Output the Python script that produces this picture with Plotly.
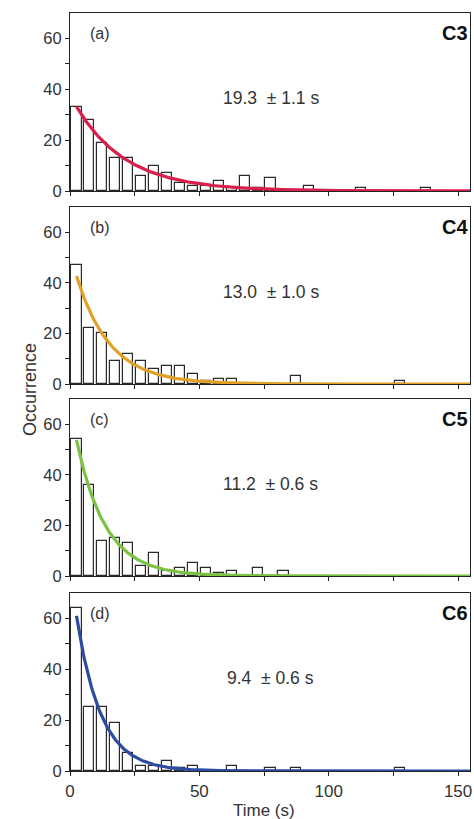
import numpy as np
import plotly.graph_objects as go
from plotly.subplots import make_subplots

# ---- data ----
bin_centers = [2.5 + 5 * i for i in range(31)]
counts_a = [33, 28, 19, 13, 13, 6, 10, 7, 3, 2, 2, 4, 1, 6, 1, 5, 0, 0, 2, 0, 0, 0, 1, 0, 0, 0, 0, 1, 0, 0, 0]
counts_b = [47, 22, 20, 9, 12, 9, 6, 7, 7, 4, 1, 2, 2, 0, 0, 0, 0, 3, 0, 0, 0, 0, 0, 0, 0, 1, 0, 0, 0, 0, 0]
counts_c = [54, 36, 14, 15, 13, 4, 9, 2, 3, 5, 3, 1, 2, 0, 3, 0, 2, 0, 0, 0, 0, 0, 0, 0, 0, 0, 0, 0, 0, 0, 0]
counts_d = [64, 25, 25, 19, 7, 2, 2, 4, 1, 2, 0, 0, 2, 0, 0, 1, 0, 1, 0, 0, 0, 0, 0, 0, 0, 1, 0, 0, 0, 0, 0]

panel_labels = ["(a)", "(b)", "(c)", "(d)"]
compound_labels = ["C3", "C4", "C5", "C6"]
lifetimes = ["19.3  \u00b1 1.1 s", "13.0  \u00b1 1.0 s", "11.2  \u00b1 0.6 s", "9.4  \u00b1 0.6 s"]
fit_tau = [19.3, 13.0, 11.2, 9.4]
fit_amp = [37.8, 51.7, 67.3, 79.6]
fit_colors = ["#d8204c", "#e2a126", "#7cc243", "#2c4ca2"]

all_counts = [counts_a, counts_b, counts_c, counts_d]

y_ticks = [0, 20, 40, 60]
x_tickvals = [0, 25, 50, 75, 100, 125, 150]
x_ticktext = ["0", "", "50", "", "100", "", "150"]

# ---- figure ----
fig = make_subplots(rows=4, cols=1, shared_xaxes=False, vertical_spacing=0.0)

W, H = 474, 819
ml, mr, mt, mb = 70, 2, 13, 48
plot_h = H - mt - mb
# panel pixel extents (top, bottom)
extents = [(13, 191), (207, 384), (399, 576), (593, 771)]
domains = [[(H - mb - b) / plot_h, (H - mb - t) / plot_h] for t, b in extents]

font_fam = "Liberation Sans, Arial, sans-serif"
t_fit = np.linspace(2.5, 155, 400)

for i in range(4):
    r = i + 1
    xs = [x for x, c in zip(bin_centers, all_counts[i]) if c > 0]
    ys = [c for c in all_counts[i] if c > 0]
    fig.add_trace(go.Bar(x=xs, y=ys, width=3.9,
                         marker=dict(color="white", line=dict(color="#2a2a2a", width=1.2)),
                         showlegend=False), row=r, col=1)
    fig.add_trace(go.Scatter(x=t_fit, y=fit_amp[i] * np.exp(-t_fit / fit_tau[i]),
                             mode="lines", line=dict(color=fit_colors[i], width=3.2),
                             showlegend=False), row=r, col=1)
    xa = "xaxis" if r == 1 else f"xaxis{r}"
    ya = "yaxis" if r == 1 else f"yaxis{r}"
    fig.layout[xa].update(range=[0, 154.6], tickvals=x_tickvals, ticktext=x_ticktext,
                          showticklabels=(r == 4), ticks="outside", ticklen=4, tickwidth=1,
                          tickcolor="#222", showline=True, linecolor="#222", linewidth=1.2,
                          mirror=True, showgrid=False, zeroline=False,
                          ticklabeloverflow="allow",
                          tickfont=dict(size=17, color="#333", family=font_fam))
    fig.layout[ya].update(range=[0, 70], domain=domains[i], tickvals=y_ticks,
                          ticks="outside", ticklen=4, tickwidth=1, tickcolor="#222",
                          minor=dict(tickvals=[10, 30, 50], ticks="outside", ticklen=4,
                                     tickcolor="#222"),
                          showline=True, linecolor="#222", linewidth=1.2, mirror=True,
                          showgrid=False, zeroline=False,
                          tickfont=dict(size=16.5, color="#333", family=font_fam))
    xref = "x" if r == 1 else f"x{r}"
    yref = "y" if r == 1 else f"y{r}"
    fig.add_annotation(x=7, y=62, xref=xref, yref=yref, text=panel_labels[i],
                       showarrow=False, xanchor="left", yanchor="middle",
                       font=dict(size=16, color="#333", family=font_fam))
    fig.add_annotation(x=1, y=62, xref=f"{xref} domain", yref=yref, text="<b>" + compound_labels[i] + "</b>",
                       showarrow=False, xanchor="right", yanchor="middle", xshift=0,
                       font=dict(size=20, color="#111", family=font_fam))
    fig.add_annotation(x=77.5, y=36.5, xref=xref, yref=yref, text=lifetimes[i],
                       showarrow=False, xanchor="center", yanchor="middle",
                       font=dict(size=17.5, color="#333", family=font_fam))

fig.add_annotation(x=0, y=(H - mb - 390) / plot_h, xref="paper", yref="paper", xshift=-52,
                   text="Occurrence", textangle=-90, showarrow=False,
                   font=dict(size=18, color="#333", family=font_fam))
fig.add_annotation(x=(265 - ml) / (W - ml - mr), y=0, xref="paper", yref="paper", yshift=-39,
                   text="Time (s)", showarrow=False, yanchor="middle",
                   font=dict(size=17, color="#333", family=font_fam))

fig.update_layout(width=W, height=H, margin=dict(l=ml, r=mr, t=mt, b=mb),
                  plot_bgcolor="white", paper_bgcolor="white", bargap=0,
                  font=dict(family=font_fam))

fig.write_html("out.html")
